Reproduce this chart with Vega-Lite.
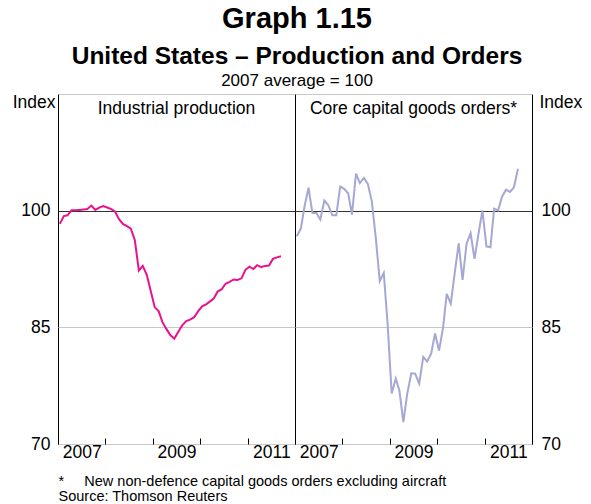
{
  "$schema": "https://vega.github.io/schema/vega-lite/v6.json",
  "padding": {"left": 11, "top": 5, "right": 5, "bottom": 0},
  "title": {
    "text": "Graph 1.15",
    "subtitle": "United States – Production and Orders",
    "fontSize": 29,
    "fontWeight": "bold",
    "subtitleFontSize": 24.5,
    "subtitleFontWeight": "bold",
    "subtitleColor": "#000",
    "subtitlePadding": 11,
    "offset": 3,
    "anchor": "middle",
    "color": "#000"
  },
  "config": {
    "font": "Liberation Sans",
    "view": {"stroke": "#000", "strokeWidth": 1},
    "axis": {"labelColor": "#000", "titleColor": "#000", "labelFontSize": 17.5, "titleFontWeight": "normal", "domain": false}
  },
  "datasets": {
    "ip": [
      {"date": "2007-01-15", "value": 98.3}, {"date": "2007-02-15", "value": 99.3}, {"date": "2007-03-15", "value": 99.4},
      {"date": "2007-04-15", "value": 100.05}, {"date": "2007-05-15", "value": 100.05}, {"date": "2007-06-15", "value": 100.1},
      {"date": "2007-07-15", "value": 100.15}, {"date": "2007-08-15", "value": 100.2}, {"date": "2007-09-15", "value": 100.65},
      {"date": "2007-10-15", "value": 100.1}, {"date": "2007-11-15", "value": 100.4}, {"date": "2007-12-15", "value": 100.6},
      {"date": "2008-01-15", "value": 100.4}, {"date": "2008-02-15", "value": 100.2}, {"date": "2008-03-15", "value": 99.9},
      {"date": "2008-04-15", "value": 98.9}, {"date": "2008-05-15", "value": 98.3}, {"date": "2008-06-15", "value": 98.0},
      {"date": "2008-07-15", "value": 97.7}, {"date": "2008-08-15", "value": 96.2}, {"date": "2008-09-15", "value": 92.3},
      {"date": "2008-10-15", "value": 92.9}, {"date": "2008-11-15", "value": 91.75}, {"date": "2008-12-15", "value": 89.7},
      {"date": "2009-01-15", "value": 87.6}, {"date": "2009-02-15", "value": 87.05}, {"date": "2009-03-15", "value": 85.7},
      {"date": "2009-04-15", "value": 84.8}, {"date": "2009-05-15", "value": 84.0}, {"date": "2009-06-15", "value": 83.55},
      {"date": "2009-07-15", "value": 84.4}, {"date": "2009-08-15", "value": 85.25}, {"date": "2009-09-15", "value": 85.8},
      {"date": "2009-10-15", "value": 86.0}, {"date": "2009-11-15", "value": 86.3}, {"date": "2009-12-15", "value": 87.05},
      {"date": "2010-01-15", "value": 87.7}, {"date": "2010-02-15", "value": 87.95}, {"date": "2010-03-15", "value": 88.3},
      {"date": "2010-04-15", "value": 88.7}, {"date": "2010-05-15", "value": 89.6}, {"date": "2010-06-15", "value": 89.9},
      {"date": "2010-07-15", "value": 90.6}, {"date": "2010-08-15", "value": 90.85}, {"date": "2010-09-15", "value": 91.15},
      {"date": "2010-10-15", "value": 91.1}, {"date": "2010-11-15", "value": 91.3}, {"date": "2010-12-15", "value": 92.4},
      {"date": "2011-01-15", "value": 92.8}, {"date": "2011-02-15", "value": 92.5}, {"date": "2011-03-15", "value": 93.0},
      {"date": "2011-04-15", "value": 92.75}, {"date": "2011-05-15", "value": 92.9}, {"date": "2011-06-15", "value": 92.95},
      {"date": "2011-07-15", "value": 93.8}, {"date": "2011-08-15", "value": 94.0}, {"date": "2011-09-15", "value": 94.15}
    ],
    "orders": [
      {"date": "2007-01-15", "value": 96.7}, {"date": "2007-02-15", "value": 97.7}, {"date": "2007-03-15", "value": 100.5},
      {"date": "2007-04-15", "value": 102.95}, {"date": "2007-05-15", "value": 99.7}, {"date": "2007-06-15", "value": 99.7},
      {"date": "2007-07-15", "value": 98.85}, {"date": "2007-08-15", "value": 101.3}, {"date": "2007-09-15", "value": 100.7},
      {"date": "2007-10-15", "value": 99.4}, {"date": "2007-11-15", "value": 99.4}, {"date": "2007-12-15", "value": 103.1},
      {"date": "2008-01-15", "value": 102.8}, {"date": "2008-02-15", "value": 102.2}, {"date": "2008-03-15", "value": 99.5},
      {"date": "2008-04-15", "value": 104.75}, {"date": "2008-05-15", "value": 103.55}, {"date": "2008-06-15", "value": 104.2},
      {"date": "2008-07-15", "value": 103.45}, {"date": "2008-08-15", "value": 101.2}, {"date": "2008-09-15", "value": 96.4},
      {"date": "2008-10-15", "value": 90.95}, {"date": "2008-11-15", "value": 92.0}, {"date": "2008-12-15", "value": 85.3},
      {"date": "2009-01-15", "value": 76.5}, {"date": "2009-02-15", "value": 78.4}, {"date": "2009-03-15", "value": 76.9},
      {"date": "2009-04-15", "value": 72.8}, {"date": "2009-05-15", "value": 76.5}, {"date": "2009-06-15", "value": 79.1},
      {"date": "2009-07-15", "value": 79.05}, {"date": "2009-08-15", "value": 77.75}, {"date": "2009-09-15", "value": 81.2},
      {"date": "2009-10-15", "value": 80.6}, {"date": "2009-11-15", "value": 81.6}, {"date": "2009-12-15", "value": 84.2},
      {"date": "2010-01-15", "value": 82.0}, {"date": "2010-02-15", "value": 85.0}, {"date": "2010-03-15", "value": 89.3},
      {"date": "2010-04-15", "value": 88.05}, {"date": "2010-05-15", "value": 91.9}, {"date": "2010-06-15", "value": 95.8},
      {"date": "2010-07-15", "value": 91.1}, {"date": "2010-08-15", "value": 95.75}, {"date": "2010-09-15", "value": 97.1},
      {"date": "2010-10-15", "value": 93.8}, {"date": "2010-11-15", "value": 97.05}, {"date": "2010-12-15", "value": 100.04},
      {"date": "2011-01-15", "value": 95.4}, {"date": "2011-02-15", "value": 95.3}, {"date": "2011-03-15", "value": 100.26},
      {"date": "2011-04-15", "value": 100.04}, {"date": "2011-05-15", "value": 101.8}, {"date": "2011-06-15", "value": 102.7},
      {"date": "2011-07-15", "value": 102.4}, {"date": "2011-08-15", "value": 103.0}, {"date": "2011-09-15", "value": 105.4}
    ]
  },
  "vconcat": [
    {
      "title": {"text": "2007 average = 100", "fontSize": 17, "fontWeight": "normal", "offset": 3, "anchor": "middle", "color": "#000"},
      "spacing": 0,
      "bounds": "flush",
      "hconcat": [
        {
          "width": 237,
          "height": 350,
          "title": {"text": "Industrial production", "fontSize": 17.5, "fontWeight": "normal", "offset": -38, "baseline": "alphabetic", "anchor": "middle", "color": "#000"},
          "data": {"name": "ip"},
          "mark": {"type": "line", "color": "#e8138b", "strokeWidth": 2},
          "encoding": {
            "x": {
              "field": "date", "type": "temporal",
              "scale": {"domain": ["2007-01-01T00:00:00", "2012-01-01T00:00:00"]},
              "axis": {
                "tickCount": {"interval": "year", "step": 1},
                "format": "%Y",
                "labelExpr": "year(datum.value) % 2 == 1 ? datum.label : ''",
                "labelOffset": 23.7,
                "labelFlush": false,
                "labelOverlap": false,
                "tickSize": -6,
                "tickColor": "#000",
                "labelPadding": 5,
                "grid": false,
                "title": ["*\u00a0\u00a0\u00a0\u00a0\u00a0New non-defence capital goods orders excluding aircraft", "Source: Thomson Reuters"],
                "titleAnchor": "start",
                "titleAlign": "left",
                "titleFontSize": 14.5,
                "titleLineHeight": 14.5,
                "titlePadding": 14
              }
            },
            "y": {
              "field": "value", "type": "quantitative",
              "scale": {"domain": [70, 115], "nice": false, "zero": false},
              "axis": {
                "values": [70, 85, 100, 115],
                "labelExpr": "datum.value == 115 ? '' : datum.label",
                "ticks": false,
                "labelPadding": 8,
                "grid": true,
                "gridColor": {"condition": {"test": "datum.value == 100", "value": "#333"}, "value": "#c8c8c8"},
                "title": "Index",
                "titleAngle": 0,
                "titleAlign": "right",
                "titleBaseline": "alphabetic",
                "titleX": -3,
                "titleY": 13,
                "titleFontSize": 17.5
              }
            }
          }
        },
        {
          "width": 237,
          "height": 350,
          "title": {"text": "Core capital goods orders*", "fontSize": 17.5, "fontWeight": "normal", "offset": -38, "baseline": "alphabetic", "anchor": "middle", "color": "#000"},
          "data": {"name": "orders"},
          "mark": {"type": "line", "color": "#a5a7d4", "strokeWidth": 2},
          "encoding": {
            "x": {
              "field": "date", "type": "temporal",
              "scale": {"domain": ["2007-01-01T00:00:00", "2012-01-01T00:00:00"]},
              "axis": {
                "tickCount": {"interval": "year", "step": 1},
                "format": "%Y",
                "labelExpr": "year(datum.value) % 2 == 1 ? datum.label : ''",
                "labelOffset": 23.7,
                "labelFlush": false,
                "labelOverlap": false,
                "tickSize": -6,
                "tickColor": "#000",
                "labelPadding": 5,
                "grid": false,
                "title": null
              }
            },
            "y": {
              "field": "value", "type": "quantitative",
              "scale": {"domain": [70, 115], "nice": false, "zero": false},
              "axis": {
                "orient": "right",
                "values": [70, 85, 100, 115],
                "labelExpr": "datum.value == 115 ? '' : datum.label",
                "ticks": false,
                "labelPadding": 9,
                "grid": true,
                "gridColor": {"condition": {"test": "datum.value == 100", "value": "#333"}, "value": "#c8c8c8"},
                "title": "Index",
                "titleAngle": 0,
                "titleAlign": "left",
                "titleBaseline": "alphabetic",
                "titleX": 7,
                "titleY": 13,
                "titleFontSize": 17.5
              }
            }
          }
        }
      ]
    }
  ]
}
